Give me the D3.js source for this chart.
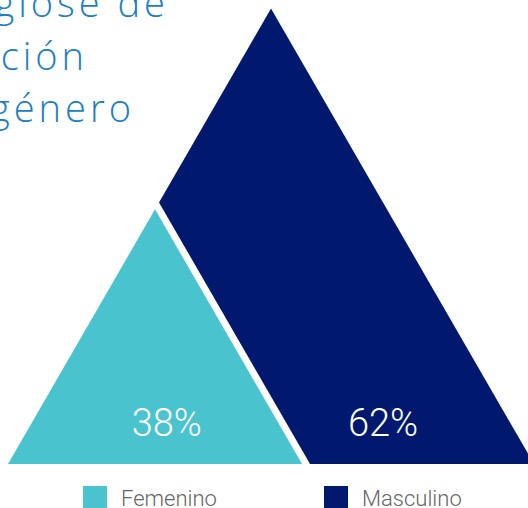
<!DOCTYPE html>
<html>
<head>
<meta charset="utf-8">
<script src="https://cdn.jsdelivr.net/npm/d3@7"></script>
<style>
  html, body { margin: 0; padding: 0; background: #ffffff; overflow: hidden; }
  svg { display: block; }
</style>
</head>
<body>
<svg id="chart" width="528" height="508"></svg>
<script>
// Gender breakdown
const categories = ["Femenino", "Masculino"];
const shares = [0.38, 0.62];
const valueLabels = ["38%", "62%"];
const titleLines = ["Desglose de", "población", "por género"];
const colors = ["#49c3ce", "#00196e"];

const W = 528, H = 508;
const svg = d3.select("#chart");

// Frame: an equilateral triangle resting on the baseline
const baseY = 464;
const leftX = 8;
const side = 526;
const h = side * Math.sqrt(3) / 2;
const gap = 8;

// Triangle side from share so that its area is proportional to the value
const sizeScale = d3.scaleSqrt().domain([0, 1]).range([0, 477]);
const lightSide = sizeScale(shares[0]);

const tri = (x0, s) => [[x0, baseY], [x0 + s / 2, baseY - s * Math.sqrt(3) / 2], [x0 + s, baseY]];
const line = d3.line();

// Masculino: the frame with the notch (light triangle plus gap) cut from its left corner
const notch = lightSide + gap;
const darkPts = [
  [leftX + notch, baseY],
  [leftX + notch / 2, baseY - notch * Math.sqrt(3) / 2],
  [leftX + side / 2, baseY - h],
  [leftX + side, baseY]
];
svg.append("path")
  .attr("d", line(darkPts) + "Z")
  .attr("fill", colors[1]);

// Femenino: smaller triangle sharing the bottom-left corner
svg.append("path")
  .attr("d", line(tri(leftX, lightSide)) + "Z")
  .attr("fill", colors[0]);

// Value labels
const labelY = baseY - 28;
const labelX = [leftX + lightSide * 0.54, leftX + notch + 73];
svg.selectAll("text.value")
  .data(valueLabels)
  .join("text")
  .attr("class", "value")
  .attr("x", (d, i) => labelX[i])
  .attr("y", labelY)
  .attr("text-anchor", "middle")
  .attr("fill", "#ffffff")
  .style("font-family", "Roboto, 'Open Sans', sans-serif")
  .style("font-weight", 300)
  .style("font-size", "38px")
  .text(d => d);

// Title, running off the left edge (right-aligned lines, wide tracking)
const tracking = 4;
const titleEnds = [165, 84, 131];
const titleBase = [17, 70, 122];
svg.selectAll("text.title")
  .data(titleLines)
  .join("text")
  .attr("class", "title")
  .attr("x", (d, i) => titleEnds[i] + tracking)
  .attr("y", (d, i) => titleBase[i])
  .attr("text-anchor", "end")
  .attr("fill", "#1b80c5")
  .style("font-family", "'Open Sans', Roboto, sans-serif")
  .style("font-weight", 300)
  .style("font-size", "38px")
  .style("letter-spacing", tracking + "px")
  .text(d => d);

// Legend
const legendX = d3.scalePoint().domain(categories).range([83, 324]);
const legend = svg.selectAll("g.legend")
  .data(categories)
  .join("g")
  .attr("class", "legend")
  .attr("transform", d => `translate(${legendX(d)},486)`);
legend.append("rect")
  .attr("width", 24)
  .attr("height", 22)
  .attr("fill", (d, i) => colors[i]);
legend.append("text")
  .attr("x", 38)
  .attr("y", 20)
  .attr("fill", "#666666")
  .style("font-family", "Roboto, 'Open Sans', sans-serif")
  .style("font-weight", 300)
  .style("font-size", "22px")
  .text(d => d);
</script>
</body>
</html>
